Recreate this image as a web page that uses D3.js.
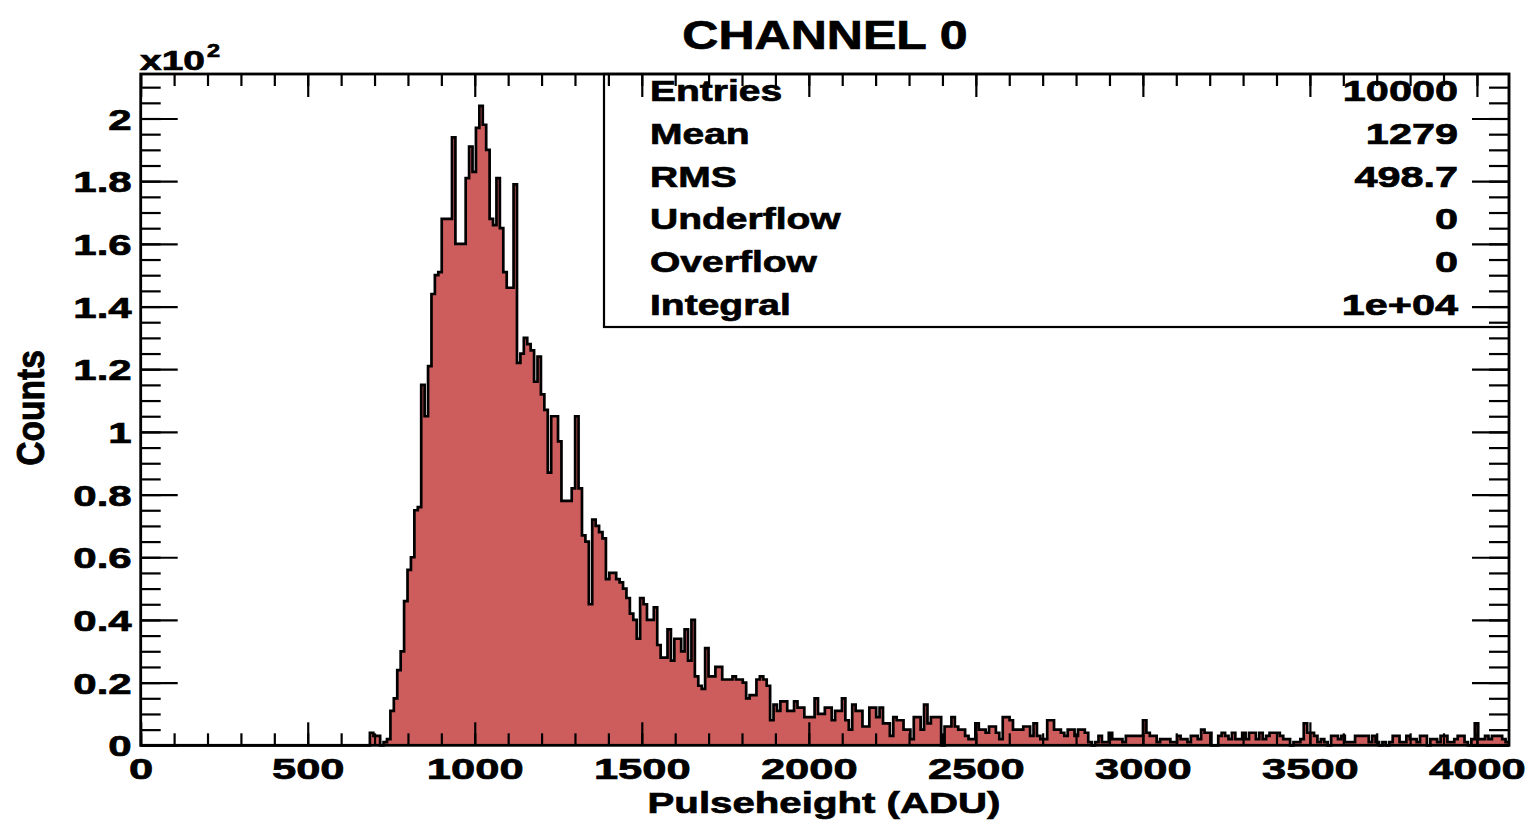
<!DOCTYPE html>
<html><head><meta charset="utf-8">
<script src="https://cdn.jsdelivr.net/npm/d3@7"></script>
<style>
html,body{margin:0;padding:0;background:#fff;}
svg{display:block;}
text{font-family:"Liberation Sans",Arial,Helvetica,sans-serif;font-weight:bold;fill:#000;stroke:#000;stroke-width:0.7px;}
</style></head><body>
<svg id="c" width="1528" height="822"></svg>
<script>
// ---------------- data ----------------
const xMin = 0, xMax = 4096;          // ADU range of the histogram (400 bins)
const yAxisMax = 214.2;               // top of the y axis (counts)
const binCounts = [
  0,0,0,0,0,0,0,0,0,0,
  0,0,0,0,0,0,0,0,0,0,
  0,0,0,0,0,0,0,0,0,0,
  0,0,0,0,0,0,0,0,0,0,
  0,0,0,0,0,0,0,0,0,0,
  0,0,0,0,0,0,0,0,0,0,
  0,0,0,0,0,0,0,4,3,3,
  0,1,2,11,15,24,30,46,56,60,
  75,76,115,105,121,144,150,151,168,168,
  168,194,160,160,160,181,191,183,197,204,
  198,190,168,166,181,165,151,146,146,179,
  122,125,130,128,126,116,124,112,107,87,
  105,105,97,78,78,78,82,105,82,67,
  65,45,72,70,68,66,53,55,55,53,
  52,50,47,42,40,34,47,45,40,40,
  44,32,28,28,37,27,34,34,30,37,
  27,40,22,19,18,31,22,22,25,25,
  21,21,21,22,21,21,20,15,16,16,
  21,22,21,19,8,13,11,14,14,11,
  11,14,12,12,9,9,9,15,10,10,
  12,12,8,11,11,15,8,5,13,11,
  11,6,6,12,12,9,12,7,7,3,
  9,8,8,5,5,2,9,9,5,13,
  7,9,9,9,0,6,6,9,6,5,
  5,3,2,2,7,5,5,4,6,6,
  4,2,9,9,8,5,5,5,6,6,
  3,7,3,2,2,8,8,5,5,4,
  3,5,5,3,5,5,4,1,0,1,
  3,1,1,4,2,2,2,1,3,3,
  3,3,3,8,4,3,3,1,2,2,
  2,1,1,3,2,2,1,3,3,2,
  5,4,4,0,0,3,4,3,2,4,
  2,2,4,2,4,4,2,4,2,3,
  4,4,4,3,2,2,0,1,1,2,
  7,4,4,3,1,2,1,0,3,3,
  2,3,1,1,1,3,3,3,3,1,
  3,1,0,1,0,1,3,3,1,1,
  3,2,2,1,3,3,0,2,2,1,
  3,3,1,1,2,3,3,1,0,2,
  7,2,2,3,2,3,3,3,2,1
];
const xTickValues = [0,500,1000,1500,2000,2500,3000,3500,4000];
const xTickLabels = ["0","500","1000","1500","2000","2500","3000","3500","4000"];
const yTickValues = [0,20,40,60,80,100,120,140,160,180,200];
const yTickLabels = ["0","0.2","0.4","0.6","0.8","1","1.2","1.4","1.6","1.8","2"];
const statLabels = ["Entries","Mean","RMS","Underflow","Overflow","Integral"];
const statValues = ["10000","1279","498.7","0","0","1e+04"];
const chartTitle = "CHANNEL 0";
const xTitle = "Pulseheight (ADU)";
const yTitle = "Counts";
const yExponentBase = "x10", yExponent = "2";

// ---------------- layout ----------------
const frame = {left: 140.7, right: 1509, top: 74, bottom: 745.3};
const fillColor = "#cd5c5c";
const svg = d3.select("#c");

const x = d3.scaleLinear().domain([xMin, xMax]).range([frame.left, frame.right]);
const y = d3.scaleLinear().domain([0, yAxisMax]).range([frame.bottom, frame.top]);

function stretch(sel, k, anchor){
  sel.each(function(){
    const t = d3.select(this);
    t.attr("text-anchor","start");
    const L = this.getComputedTextLength();
    const w = L * k;
    const x0 = +(t.attr("x") || 0);
    t.attr("textLength", w).attr("lengthAdjust","spacingAndGlyphs")
     .attr("x", x0 - (anchor === "middle" ? w/2 : anchor === "end" ? w : 0));
  });
}

// ---------------- histogram ----------------
const bw = (xMax - xMin) / binCounts.length;
const pts = binCounts.map((c, i) => [xMin + i*bw, c]);
pts.push([xMax, binCounts[binCounts.length-1]]);

svg.append("path")
  .attr("d", d3.area().x(d => x(d[0])).y0(y(0)).y1(d => y(d[1])).curve(d3.curveStepAfter)(pts))
  .attr("fill", fillColor).attr("stroke", "none");
svg.append("path")
  .attr("d", d3.line().x(d => x(d[0])).y(d => y(d[1])).curve(d3.curveStepAfter)(pts))
  .attr("fill", "none").attr("stroke", "#000").attr("stroke-width", 2.7)
  .attr("stroke-linejoin", "miter");

// ---------------- stats box ----------------
const box = {x0: 604, x1: 1509, y0: 74, y1: 327};
svg.append("rect").attr("x", box.x0).attr("y", box.y0)
  .attr("width", box.x1 - box.x0).attr("height", box.y1 - box.y0)
  .attr("fill", "#fff").attr("stroke", "#000").attr("stroke-width", 2.2);
const rowY = d3.scalePoint().domain(d3.range(statLabels.length)).range([101, 315]);
svg.selectAll("text.slab").data(statLabels).join("text").attr("class","slab")
  .attr("x", 650).attr("y", (d,i) => rowY(i)).attr("font-size", 30).text(d => d)
  .call(stretch, 1.3, "start");
svg.selectAll("text.sval").data(statValues).join("text").attr("class","sval")
  .attr("x", 1458).attr("y", (d,i) => rowY(i)).attr("font-size", 30).text(d => d)
  .call(stretch, 1.38, "end");

// ---------------- frame & ticks ----------------
svg.append("rect").attr("x", frame.left).attr("y", frame.top)
  .attr("width", frame.right - frame.left).attr("height", frame.bottom - frame.top)
  .attr("fill", "none").attr("stroke", "#000").attr("stroke-width", 2.8);

function tickAxis(gen, tx, ty){
  svg.append("g").attr("transform", `translate(${tx},${ty})`).call(gen)
    .call(g => { g.select(".domain").remove(); g.selectAll("text").remove();
                 g.selectAll("line").attr("stroke","#000").attr("stroke-width",2.2); });
}
const xMinor = d3.range(xMin, xMax, 100);
const yMinor = d3.range(0, yAxisMax, 5);
// bottom (ticks pointing up), top (ticks pointing down)
tickAxis(d3.axisTop(x).tickValues(xMinor).tickSize(12), 0, frame.bottom);
tickAxis(d3.axisTop(x).tickValues(xTickValues).tickSize(23), 0, frame.bottom);
tickAxis(d3.axisBottom(x).tickValues(xMinor).tickSize(12), 0, frame.top);
tickAxis(d3.axisBottom(x).tickValues(xTickValues).tickSize(23), 0, frame.top);
// left (pointing right), right (pointing left)
tickAxis(d3.axisRight(y).tickValues(yMinor).tickSize(20), frame.left, 0);
tickAxis(d3.axisRight(y).tickValues(yTickValues).tickSize(37), frame.left, 0);
tickAxis(d3.axisLeft(y).tickValues(yMinor).tickSize(20), frame.right, 0);
tickAxis(d3.axisLeft(y).tickValues(yTickValues).tickSize(37), frame.right, 0);

// ---------------- tick labels ----------------
const gx = svg.append("g").attr("transform", `translate(0,${frame.bottom})`)
  .call(d3.axisBottom(x).tickValues(xTickValues).tickSize(0).tickPadding(12)
        .tickFormat((d,i) => xTickLabels[i]));
gx.select(".domain").remove();
gx.attr("font-family", null).attr("font-size", null);
gx.selectAll("text").attr("font-size", 30).attr("fill", "#000").call(stretch, 1.45, "middle");

const gy = svg.append("g").attr("transform", `translate(${frame.left},0)`)
  .call(d3.axisLeft(y).tickValues(yTickValues).tickSize(0).tickPadding(9)
        .tickFormat((d,i) => yTickLabels[i]));
gy.select(".domain").remove();
gy.attr("font-family", null).attr("font-size", null);
gy.selectAll("text").attr("font-size", 30).attr("fill", "#000").attr("dy", "0.35em")
  .call(stretch, 1.4, "end");

// ---------------- titles ----------------
svg.append("text").attr("x", 825).attr("y", 49).attr("font-size", 40).text(chartTitle)
  .call(stretch, 1.25, "middle");
svg.append("text").attr("x", 824).attr("y", 813).attr("font-size", 30).text(xTitle)
  .call(stretch, 1.34, "middle");
svg.append("g").attr("transform", "translate(44,408) scale(1.3,1) rotate(-90)")
  .append("text").attr("x", 0).attr("y", 0).attr("font-size", 30).text(yTitle)
  .call(stretch, 1.12, "middle");
svg.append("text").attr("x", 140).attr("y", 70).attr("font-size", 28).text(yExponentBase)
  .call(stretch, 1.39, "start");
svg.append("text").attr("x", 207).attr("y", 57).attr("font-size", 18).text(yExponent)
  .call(stretch, 1.3, "start");
</script>
</body></html>
